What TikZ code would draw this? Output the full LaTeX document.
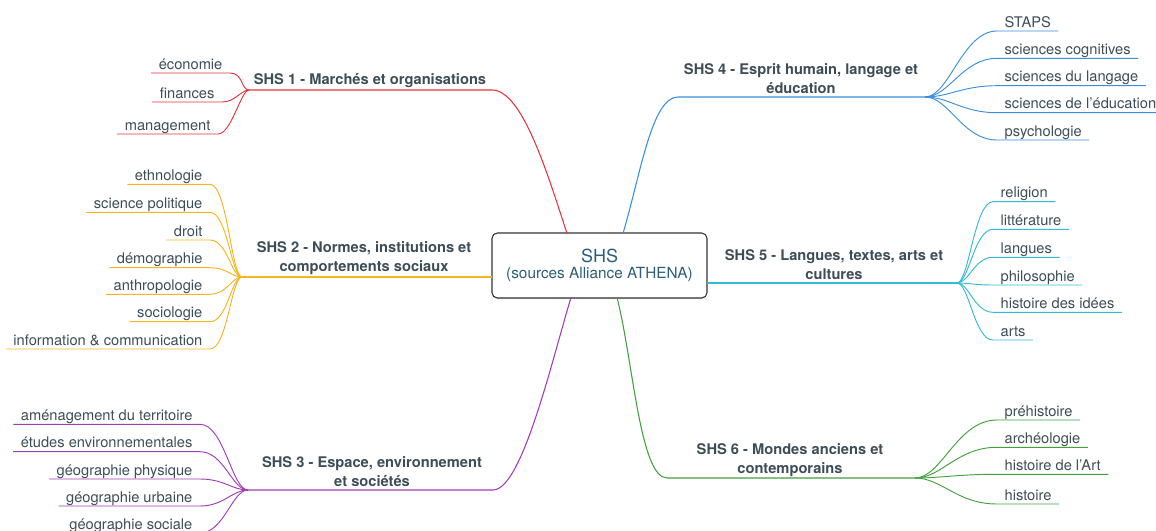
\documentclass[tikz,border=0pt]{standalone}
\usepackage{fontspec}
\setmainfont{TeX Gyre Heros}
\usetikzlibrary{shadows}
\definecolor{cA}{HTML}{E5333F}
\definecolor{cB}{HTML}{F6B51E}
\definecolor{cC}{HTML}{A23CB4}
\definecolor{cD}{HTML}{3A8EE0}
\definecolor{cE}{HTML}{33BBD4}
\definecolor{cF}{HTML}{42A03E}
\definecolor{txt}{HTML}{3D4D58}
\definecolor{roottxt}{HTML}{2C5E79}
\tikzset{
  leafbase/.style={inner xsep=5.5pt, inner ysep=0pt, text height=8.5pt, text depth=2.6pt, text=txt, font=\fontsize{11}{13}\selectfont},
  leafL/.style={leafbase, anchor=south east},
  leafR/.style={leafbase, anchor=south west},
  title/.style={align=center, text=txt, font=\bfseries\fontsize{11}{14.3}\selectfont, inner sep=0pt},
  conn/.style={line width=0.8pt},
  leafline/.style={line width=0.7pt},
  rootbox/.style={draw=black!80, line width=0.8pt, rounded corners=4pt, fill=white, minimum width=161.25pt, minimum height=48.75pt, align=center, text=roottxt, drop shadow={shadow xshift=0pt, shadow yshift=-0.8pt, opacity=0.25}}
}
\begin{document}
\begin{tikzpicture}[x=0.75pt, y=-0.75pt]
\useasboundingbox (0,0) rectangle (1156,531);
% root
\node[rootbox] (root) at (599.5,265.5) {{\fontsize{13.5}{16}\selectfont SHS}\\[0pt]{\fontsize{11.5}{13}\selectfont (sources Alliance ATHENA)}};
% anchor coordinates
\coordinate (r1) at (567,233.5);
\coordinate (r2) at (492,277);
\coordinate (r3) at (571,297.5);
\coordinate (r4) at (623,233.5);
\coordinate (r5) at (707,283);
\coordinate (r6) at (617,297.5);
\coordinate (k1) at (492,90);
\coordinate (k3) at (493,490);
\coordinate (k4) at (678,97);
\coordinate (k6) at (667,478);
\coordinate (h1) at (249,90);
\coordinate (h2) at (242,277);
\coordinate (h3) at (248,490);
\coordinate (h4) at (925,97);
\coordinate (h5) at (957,283);
\coordinate (h6) at (915,478);
% main connectors
\draw[conn,cA] (r1) .. controls (547,172) and (522,90) .. (k1) -- (h1);
\draw[conn,cB] (r2) -- (h2);
\draw[conn,cC] (r3) .. controls (552,360) and (522,490) .. (k3) -- (h3);
\draw[conn,cD] (r4) .. controls (641,172) and (652,97) .. (k4) -- (h4);
\draw[conn,cE] (r5) -- (h5);
\draw[conn,cF] (r6) .. controls (633,360) and (640,478) .. (k6) -- (h6);
% titles
\node[title] (t1) at (370,81) {SHS 1 - Marchés et organisations};
\node[title] (t2) at (364,258.5) {SHS 2 - Normes, institutions et\\comportements sociaux};
\node[title] (t3) at (372,472) {SHS 3 - Espace, environnement\\et sociétés};
\node[title] (t4) at (801,79) {SHS 4 - Esprit humain, langage et\\éducation};
\node[title] (t5) at (834,265) {SHS 5 - Langues, textes, arts et\\cultures};
\node[title] (t6) at (790,460) {SHS 6 - Mondes anciens et\\contemporains};
% SHS 1 leaves
\foreach \x/\y/\t [count=\i] in {230/73/économie, 222/102/finances, 218/134/management}{
  \node[leafL] (a\i) at (\x,\y) {\t};
  \draw[leafline,cA] (h1) to[out=180,in=0,out distance=6pt,in distance=10pt] (a\i.south east) -- (a\i.south west);
}
% SHS 2 leaves
\foreach \y/\t [count=\i] in {184.3/ethnologie, 212.3/science politique, 240/droit, 267.7/démographie, 294.3/anthropologie, 321.7/sociologie, 349/information \& communication}{
  \node[leafL] (b\i) at (210,\y) {\t};
  \draw[leafline,cB] (h2) to[out=180,in=0,out distance=8pt,in distance=13pt] (b\i.south east) -- (b\i.south west);
}
% SHS 3 leaves
\foreach \y/\t [count=\i] in {424.3/aménagement du territoire, 451.7/études environnementales, 479/géographie physique, 506/géographie urbaine, 533/géographie sociale}{
  \node[leafL] (c\i) at (200,\y) {\t};
  \draw[leafline,cC] (h3) to[out=180,in=0,out distance=12pt,in distance=18pt] (c\i.south east) -- (c\i.south west);
}
% SHS 4 leaves
\foreach \y/\t [count=\i] in {31/STAPS, 58.3/sciences cognitives, 85.7/sciences du langage, 112.7/sciences de l'éducation, 140/psychologie}{
  \node[leafR] (d\i) at (997,\y) {\t};
  \draw[leafline,cD] (h4) to[out=0,in=180,out distance=18pt,in distance=26pt] (d\i.south west) -- (d\i.south east);
}
% SHS 5 leaves
\foreach \y/\t [count=\i] in {201.7/religion, 229.3/littérature, 257.3/langues, 285/philosophie, 312.3/histoire des idées, 340/arts}{
  \node[leafR] (e\i) at (993,\y) {\t};
  \draw[leafline,cE] (h5) to[out=0,in=180,out distance=9pt,in distance=14pt] (e\i.south west) -- (e\i.south east);
}
% SHS 6 leaves
\foreach \y/\t [count=\i] in {420/préhistoire, 447.3/archéologie, 474.3/histoire de l'Art, 504/histoire}{
  \node[leafR] (f\i) at (997,\y) {\t};
  \draw[leafline,cF] (h6) to[out=0,in=180,out distance=20pt,in distance=30pt] (f\i.south west) -- (f\i.south east);
}
\end{tikzpicture}
\end{document}
